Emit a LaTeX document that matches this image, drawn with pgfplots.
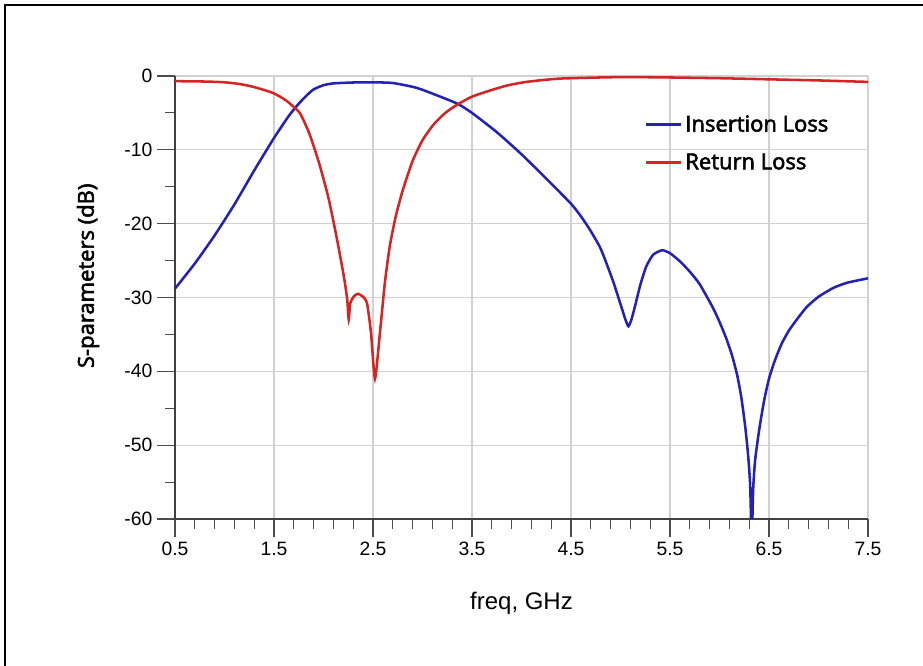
\documentclass[border=0pt]{standalone}
\usepackage{fontspec}
\setmainfont{Liberation Sans}
\newfontfamily\labfont{Open Sans}[FakeBold=2.5]
\usepackage{pgfplots}
\pgfplotsset{compat=1.18}
\definecolor{ilblue}{RGB}{34,34,180}
\definecolor{rlred}{RGB}{212,36,36}

\begin{document}
\begin{tikzpicture}
\useasboundingbox (-131.25pt,-110.25pt) rectangle (561pt,389.25pt);
% frame round the picture
\draw[line width=1.2pt] (-127.5pt,-120pt) -- (-127.5pt,385.5pt) -- (570pt,385.5pt);
\begin{axis}[
  at={(0,0)}, anchor=south west,
  scale only axis, width=519.75pt, height=332.25pt,
  xmin=0.5, xmax=7.5, ymin=-60, ymax=0,
  xtick={0.5,1.5,2.5,3.5,4.5,5.5,6.5,7.5},
  xticklabels={0.5,1.5,2.5,3.5,4.5,5.5,6.5,7.5},
  ytick={-60,-50,-40,-30,-20,-10,0},
  minor x tick num=4, minor y tick num=1,
  axis lines*=left,
  axis line style={draw=black!75, line width=0.8pt},
  tick align=outside,
  major tick length=13.5pt, minor tick length=7.5pt,
  tick style={draw=black!70, line width=0.8pt},
  grid=major, major grid style={draw=black!18, line width=0.8pt},
  /pgf/number format/assume math mode=true,
  ticklabel style={font=\fontsize{14.5}{16}\selectfont},
  xlabel={freq, GHz},
  xlabel style={at={(axis description cs:0.5,-0.19)}, anchor=center, font=\fontsize{18}{20}\selectfont},
  ylabel={S-parameters (dB)},
  ylabel style={at={(axis description cs:-0.1255,0.549)}, anchor=center, font=\labfont\fontsize{16.5}{18}\selectfont},
  legend style={draw=none, fill=none, at={(axis description cs:0.672,0.848)}, anchor=west,
    font=\labfont\fontsize{16.5}{18}\selectfont, row sep=11pt},
  legend cell align=left,
  legend image code/.code={\draw[#1, line width=2.3pt] (0pt,0pt) -- (26pt,0pt);},
  clip=true,
]
% Insertion Loss
\addplot[ilblue, line width=1.9pt, smooth, tension=0.35] coordinates {
  (0.5,-28.8) (0.7,-25.4) (0.9,-21.6) (1.1,-17.4) (1.3,-12.8) (1.5,-8.4)
  (1.65,-5.4) (1.76,-3.6) (1.89,-1.9) (2.0,-1.25) (2.1,-1.0) (2.3,-0.88)
  (2.5,-0.86) (2.7,-0.95) (2.94,-1.6) (3.18,-2.8) (3.36,-3.8) (3.5,-5.0)
  (3.75,-7.6) (4.0,-10.6) (4.25,-13.9) (4.5,-17.3) (4.6,-19.0) (4.69,-20.8)
  (4.8,-23.4) (4.92,-27.6) (5.0,-30.9) (5.05,-33.0) (5.08,-33.9) (5.11,-33.0)
  (5.15,-31.0) (5.2,-28.3) (5.26,-25.8) (5.33,-24.2) (5.42,-23.6) (5.5,-24.0)
  (5.6,-25.1) (5.7,-26.5) (5.8,-28.2) (5.93,-31.3) (6.0,-33.3) (6.07,-35.6)
  (6.13,-38.0) (6.18,-40.6) (6.22,-43.5) (6.26,-47.5) (6.29,-51.5) (6.31,-55.5)
  (6.325,-63) (6.34,-56) (6.36,-52.0) (6.4,-48.0) (6.45,-44.0) (6.5,-41.0)
  (6.56,-38.5) (6.63,-36.2) (6.7,-34.5) (6.78,-33.0) (6.88,-31.3) (7.0,-29.9)
  (7.15,-28.7) (7.29,-28.0) (7.5,-27.4)
};
\addlegendentry{Insertion Loss}
% Return Loss
\addplot[rlred, line width=1.9pt, smooth, tension=0.35] coordinates {
  (0.5,-0.7) (0.8,-0.75) (1.0,-0.85) (1.16,-1.1) (1.3,-1.5) (1.49,-2.3)
  (1.62,-3.3) (1.76,-5.0) (1.86,-7.9) (1.96,-12.0) (2.05,-16.5) (2.12,-21.0)
  (2.17,-24.5) (2.21,-27.5) (2.24,-30.3) (2.255,-33.0) (2.27,-30.8) (2.31,-29.8)
  (2.35,-29.5) (2.4,-29.9) (2.44,-30.8) (2.48,-34.8) (2.52,-41.0) (2.57,-34.8)
  (2.62,-28.0) (2.67,-23.0) (2.73,-19.0) (2.8,-15.5) (2.9,-11.5) (3.0,-8.7)
  (3.11,-6.6) (3.23,-5.0) (3.36,-3.8) (3.5,-2.8) (3.65,-2.1) (3.85,-1.3)
  (4.05,-0.8) (4.39,-0.35) (5.0,-0.15) (5.5,-0.2) (6.0,-0.3) (6.5,-0.45)
  (7.0,-0.6) (7.5,-0.8)
};
\addlegendentry{Return Loss}
\end{axis}
\end{tikzpicture}
\end{document}
